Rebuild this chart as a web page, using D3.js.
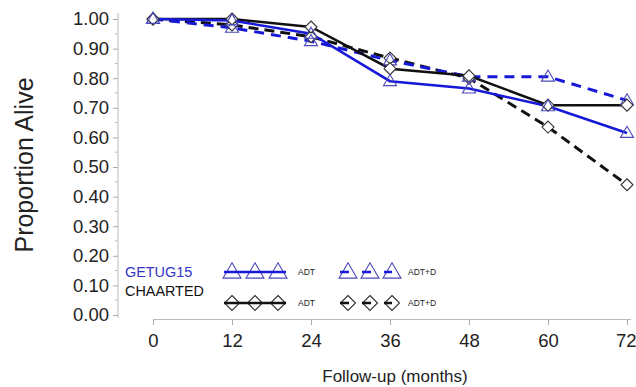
<!DOCTYPE html>
<html>
<head>
<meta charset="utf-8">
<script src="https://cdn.jsdelivr.net/npm/d3@7"></script>
<style>
  html, body { margin: 0; padding: 0; background: #fff; }
  svg { display: block; font-family: "Liberation Sans", Arial, sans-serif; }
</style>
</head>
<body>
<svg id="chart" width="636" height="387"></svg>
<script>
// Follow-up months
const months = [0, 12, 24, 36, 48, 60, 72];

// Proportion alive per arm
const getugAdt  = [1.00, 0.995, 0.95, 0.79, 0.765, 0.705, 0.615];
const getugAdtD = [1.00, 0.97, 0.925, 0.86, 0.805, 0.805, 0.725];
const chaartedAdt  = [1.00, 1.00, 0.973, 0.832, 0.808, 0.709, 0.709];
const chaartedAdtD = [1.00, 0.98, 0.94, 0.868, 0.80, 0.635, 0.44];

const yTicks = [0, 0.1, 0.2, 0.3, 0.4, 0.5, 0.6, 0.7, 0.8, 0.9, 1.0];
const xTicks = [0, 12, 24, 36, 48, 60, 72];

const BLUE = "#1818d8";
const MARK_BLUE = "#4a4ab8";

const svg = d3.select("#chart");
const x = d3.scaleLinear().domain([0, 72]).range([153, 627]);
const y = d3.scaleLinear().domain([0, 1]).range([315, 19]);

// y axis (offset to the left of the data area)
const yAxis = d3.axisLeft(y).tickValues(yTicks).tickFormat(d3.format(".2f")).tickSize(5).tickPadding(4);
const gy = svg.append("g").attr("transform", "translate(118,0)").call(yAxis);
gy.select(".domain").attr("stroke", "#bbb").attr("d", "M0,13V318");
gy.selectAll(".tick line").attr("stroke", "#aaa");
gy.selectAll(".tick text").attr("font-size", 18.5).attr("fill", "#222")
  .attr("font-family", "Liberation Sans, Arial, sans-serif");
// minor ticks
gy.selectAll(".minor").data(d3.range(0.05, 1.0, 0.1)).enter().append("line")
  .attr("x1", -3).attr("x2", 0).attr("y1", d => y(d)).attr("y2", d => y(d)).attr("stroke", "#bbb");

// x axis
const xAxis = d3.axisBottom(x).tickValues(xTicks).tickSize(5).tickPadding(9);
const gx = svg.append("g").attr("transform", "translate(0,320)").call(xAxis);
gx.select(".domain").attr("stroke", "#bbb").attr("d", "M153,-0.5H631");
gx.selectAll(".tick line").attr("stroke", "#aaa");
gx.selectAll(".tick text").attr("font-size", 18.5).attr("fill", "#222")
  .attr("font-family", "Liberation Sans, Arial, sans-serif");
// keep the last label inside the canvas
gx.selectAll(".tick text").filter(d => d === 72).attr("text-anchor", "end").attr("x", 9);

// axis titles
svg.append("text").attr("transform", "translate(33,165) rotate(-90)")
  .attr("text-anchor", "middle").attr("font-size", 25).attr("fill", "#222").text("Proportion Alive");
svg.append("text").attr("x", 395).attr("y", 382)
  .attr("text-anchor", "middle").attr("font-size", 17).attr("fill", "#222").text("Follow-up (months)");

const line = d3.line().x((d, i) => x(months[i])).y(d => y(d));

const series = [
  { vals: chaartedAdtD, color: "#111", width: 3, dash: "10,6", marker: "diamond" },
  { vals: getugAdtD, color: BLUE, width: 3, dash: "10,7", marker: "triangle" },
  { vals: chaartedAdt, color: "#111", width: 2.5, dash: null, marker: "diamond" },
  { vals: getugAdt, color: BLUE, width: 2.5, dash: null, marker: "triangle" }
];

series.forEach(s => {
  svg.append("path").datum(s.vals).attr("d", line).attr("fill", "none")
    .attr("stroke", s.color).attr("stroke-width", s.width)
    .attr("stroke-dasharray", s.dash);
});

function drawMarker(g, type, cx, cy, size, fill) {
  if (type === "triangle") {
    const h = size * 0.85, w = size / 2;
    g.append("path")
      .attr("d", `M${cx},${cy - h * 0.6}L${cx + w},${cy + h * 0.4}L${cx - w},${cy + h * 0.4}Z`)
      .attr("fill", "none").attr("stroke", MARK_BLUE).attr("stroke-width", 1.1);
  } else {
    const r = size / 2;
    g.append("path")
      .attr("d", `M${cx},${cy - r}L${cx + r},${cy}L${cx},${cy + r}L${cx - r},${cy}Z`)
      .attr("fill", fill).attr("stroke", "#333").attr("stroke-width", 1.1);
  }
}

const gm = svg.append("g");
series.forEach(s => {
  s.vals.forEach((v, i) => drawMarker(gm, s.marker, x(months[i]), y(v), s.marker === "triangle" ? 13 : 12, "#fff"));
});

// legend
const lg = svg.append("g");
lg.append("text").attr("x", 125).attr("y", 277).attr("font-size", 14.4)
  .attr("fill", "#3434c4").text("GETUG15");
lg.append("text").attr("x", 125).attr("y", 296).attr("font-size", 14.4).attr("fill", "#111").text("CHAARTED");

const legendRows = [
  { yy: 272, color: BLUE, marker: "triangle", size: 18 },
  { yy: 303, color: "#111", marker: "diamond", size: 15 }
];
const solidPos = [232, 255, 278];
const dashPos = [348, 370, 392];
legendRows.forEach(r => {
  solidPos.forEach(px => drawMarker(lg, r.marker, px, r.yy, r.size, "none"));
  dashPos.forEach(px => drawMarker(lg, r.marker, px, r.yy, r.size, "none"));
  lg.append("line").attr("x1", 224).attr("x2", 286).attr("y1", r.yy).attr("y2", r.yy)
    .attr("stroke", r.color).attr("stroke-width", 2.5);
  lg.append("line").attr("x1", 340).attr("x2", 392).attr("y1", r.yy).attr("y2", r.yy)
    .attr("stroke", r.color).attr("stroke-width", 2.5).attr("stroke-dasharray", "9,13");
  lg.append("text").attr("x", 298).attr("y", r.yy + 3).attr("font-size", 8.5).attr("fill", "#222").text("ADT");
  lg.append("text").attr("x", 408).attr("y", r.yy + 3).attr("font-size", 8.5).attr("fill", "#222").text("ADT+D");
});
</script>
</body>
</html>
